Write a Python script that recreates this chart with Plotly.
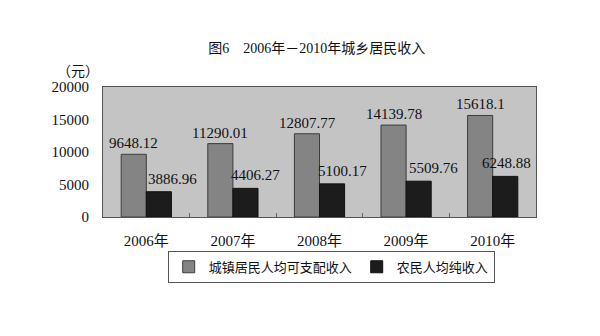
import plotly.graph_objects as go

years = ["2006年", "2007年", "2008年", "2009年", "2010年"]
urban = [9648.12, 11290.01, 12807.77, 14139.78, 15618.1]
rural = [3886.96, 4406.27, 5100.17, 5509.76, 6248.88]
urban_name = "城镇居民人均可支配收入"
rural_name = "农民人均纯收入"
y_ticks = [0, 5000, 10000, 15000, 20000]
y_tick_labels = ["0", "5000", "10000", "15000", "20000"]

FONT = "Liberation Serif, Noto Sans CJK SC, serif"
BG = "#c4c4c4"
GRAY = "#848484"
BLACK = "#1c1c1c"

fig = go.Figure()
fig.add_trace(go.Bar(x=years, y=urban, name=urban_name,
                     marker=dict(color=GRAY, line=dict(color="#3c3c3c", width=1))))
fig.add_trace(go.Bar(x=years, y=rural, name=rural_name,
                     marker=dict(color=BLACK, line=dict(color="#111111", width=1))))

def fmt(v):
    s = f"{v:.2f}"
    if s.endswith("0") and not s.endswith(".00"):
        s = s[:-1]
    return s

rural_xshift = [26, 23, 23, 27, 14]
for i, yr in enumerate(years):
    fig.add_annotation(x=yr, y=urban[i], text=fmt(urban[i]), showarrow=False,
                       xshift=-12.5, yshift=1, yanchor="bottom",
                       font=dict(family=FONT, size=15, color="#111"))
    fig.add_annotation(x=yr, y=rural[i], text=fmt(rural[i]), showarrow=False,
                       xshift=rural_xshift[i], yshift=3, yanchor="bottom",
                       font=dict(family=FONT, size=15, color="#111"))

fig.add_annotation(xref="paper", yref="paper", x=-0.058, y=1.12,
                   text="（元）", showarrow=False, xanchor="center", yanchor="middle",
                   font=dict(family=FONT, size=14, color="#111"))

fig.update_layout(
    width=600, height=336,
    margin=dict(l=103, r=64, t=87, b=119),
    paper_bgcolor="white", plot_bgcolor=BG,
    font=dict(family=FONT, size=15, color="#111"),
    title=dict(text="图6　2006年－2010年城乡居民收入", x=0.528, xanchor="center",
               y=1 - 48 / 336, yanchor="middle",
               font=dict(family=FONT, size=14, color="#111")),
    barmode="group", bargap=0.42, bargroupgap=0,
    showlegend=True,
    legend=dict(orientation="h", x=0.527, xanchor="center", y=-0.26, yanchor="top",
                bordercolor="#555", borderwidth=1, bgcolor="white",
                font=dict(family=FONT, size=13, color="#111"),
                itemwidth=30, tracegroupgap=0),
)
fig.update_xaxes(showline=True, linecolor="#555", linewidth=1, mirror=True,
                 ticks="inside", tickson="boundaries", ticklen=4, tickcolor="#666",
                 showgrid=False, ticklabelstandoff=10)
fig.update_yaxes(range=[0, 20000], tickvals=y_ticks, ticktext=y_tick_labels,
                 showline=True, linecolor="#555",
                 linewidth=1, mirror=True, showgrid=False, zeroline=False,
                 ticks="", ticklabelstandoff=10)

fig.write_html("out.html")
